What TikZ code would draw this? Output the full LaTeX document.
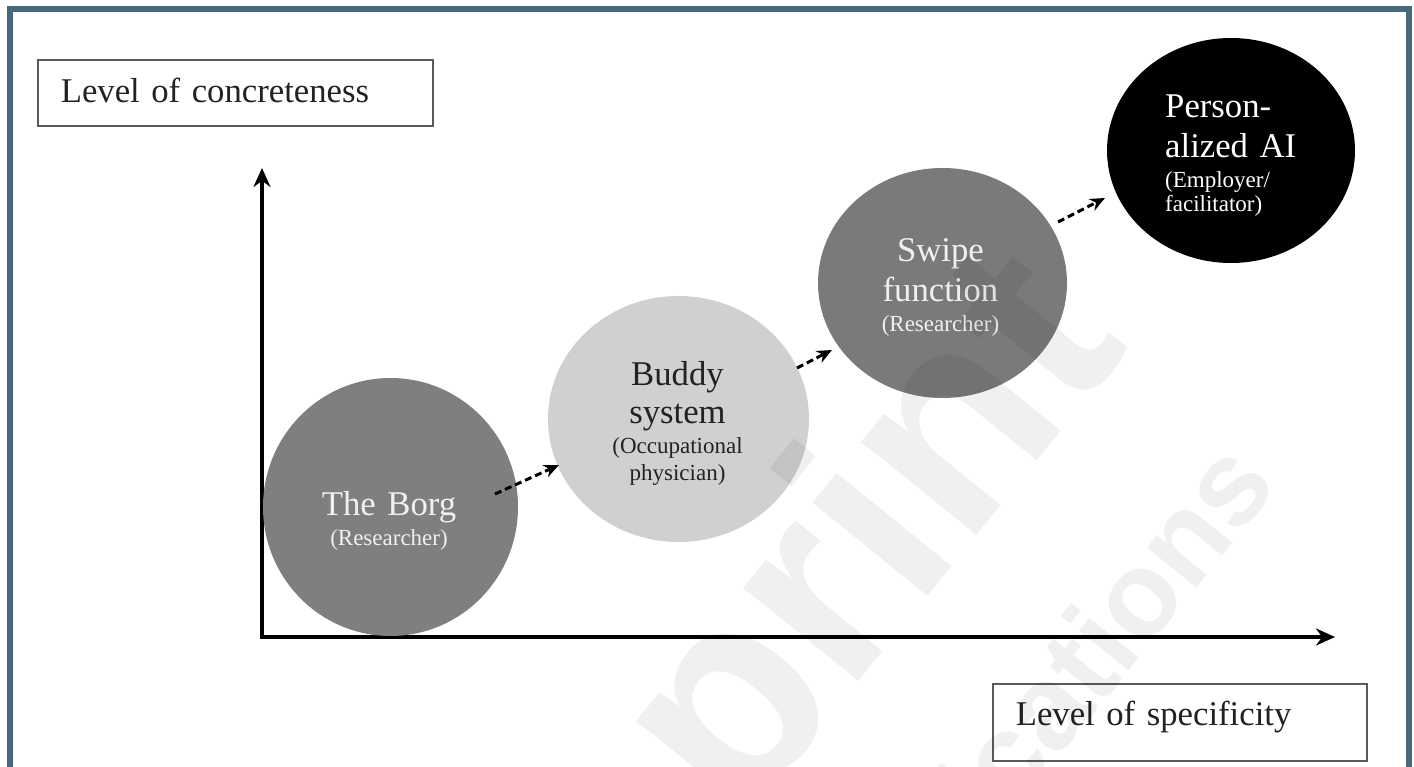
\documentclass[tikz,border=0pt]{standalone}
\usepackage{fontspec}
\setmainfont{Liberation Serif}
\newfontfamily\wmfont{Liberation Sans}
\usetikzlibrary{shapes.geometric,arrows.meta}

\definecolor{framecol}{RGB}{69,104,125}
\definecolor{boxline}{RGB}{90,90,90}
\definecolor{ink}{RGB}{34,34,34}
\definecolor{midgray}{RGB}{127,127,127}
\definecolor{darkgray}{RGB}{122,122,122}
\definecolor{lightgray}{RGB}{208,208,208}
\definecolor{paletext}{RGB}{240,240,240}

\newcommand{\bigtxt}{\fontsize{34.7}{40}\selectfont}
\newcommand{\smalltxt}{\fontsize{23}{26}\selectfont}

\begin{document}
\begin{tikzpicture}[x=1pt,y=-1pt,
  bubble/.style={ellipse, draw=none, inner sep=0pt},
  labelbox/.style={draw=boxline, line width=1.6pt, fill=white, text=ink,
    font=\bigtxt, inner ysep=0pt, inner xsep=23pt, align=left, anchor=north west},
  bubbletext/.style={inner sep=0pt, font=\bigtxt, text width=250pt, align=center, anchor=base},
  axis/.style={line width=4pt, black, line join=miter,
    {Stealth[length=19pt,width=17pt]}-{Stealth[length=19pt,width=17pt]}},
  flow/.style={line width=3pt, black, dash pattern=on 7pt off 4pt,
    -{Stealth[length=15pt,width=13pt]}},
  watermark/.style={text=black, text opacity=0.06, anchor=base west, rotate=51,
    inner sep=0pt}
]
\useasboundingbox (0,0) rectangle (1414,767);
\fill[white] (0,0) rectangle (1414,767);

% outer frame, open at the bottom
\draw[framecol, line width=6pt] (9.5,767) -- (9.5,9.5) -- (1408.5,9.5) -- (1408.5,767);

% axis labels
\node[labelbox, text width=349pt, text height=43pt, text depth=23pt] (conc) at (37,59)
  {Level of concreteness};
\node[labelbox, text width=328pt, text height=42pt, text depth=35pt] (spec) at (992,683)
  {Level of specificity};

% axes
\coordinate (origin) at (262,637);
\coordinate (ytip) at (262,168);
\coordinate (xtip) at (1335,637);
\draw[axis] (ytip) -- (origin) -- (xtip);

% stages
\node[bubble, fill=midgray, minimum width=255pt, minimum height=258pt] (borg) at (390.5,507) {};
\node[bubble, fill=lightgray, minimum width=261pt, minimum height=246pt] (buddy) at (678.5,419) {};
\node[bubble, fill=darkgray, minimum width=249pt, minimum height=230pt] (swipe) at (942.5,283) {};
\node[bubble, fill=black, minimum width=248pt, minimum height=225pt] (pai) at (1231,150.5) {};

\node[bubbletext, text=paletext] (borgtxt) at (389,515)
  {The Borg\\[-10pt]{\smalltxt (Researcher)}};
\node[bubbletext, text=ink] (buddytxt) at (677.5,385)
  {Buddy\\[-2pt]system\\[-10pt]{\smalltxt (Occupational}\\[-13pt]{\smalltxt physician)}};
\node[bubbletext, text=paletext] (swipetxt) at (940.5,262)
  {Swipe\\function\\[-10pt]{\smalltxt (Researcher)}};
\node[bubbletext, text=white, align=left, anchor=base west, text width=200pt] (paitxt) at (1165,118)
  {Person-\\alized AI\\[-10pt]{\smalltxt (Employer/}\\[-16pt]{\smalltxt facilitator)}};

% transitions between stages
\coordinate (f1s) at (495,494);
\coordinate (f1e) at (559,465);
\coordinate (f2s) at (797,368);
\coordinate (f2e) at (832,350);
\coordinate (f3s) at (1058,222);
\coordinate (f3e) at (1105,198);
\draw[flow] (f1s) -- (f1e);
\draw[flow] (f2s) -- (f2e);
\draw[flow] (f3s) -- (f3e);

% faint diagonal watermark
\begin{scope}
  \clip (0,0) rectangle (1414,767);
  \node[watermark, font=\wmfont\bfseries\fontsize{280}{280}\selectfont] (wm1) at (455,1180) {Preprint};
  \node[watermark, font=\wmfont\bfseries\fontsize{120}{120}\selectfont] (wm2) at (830,1040) {Publications};
\end{scope}
\end{tikzpicture}
\end{document}
